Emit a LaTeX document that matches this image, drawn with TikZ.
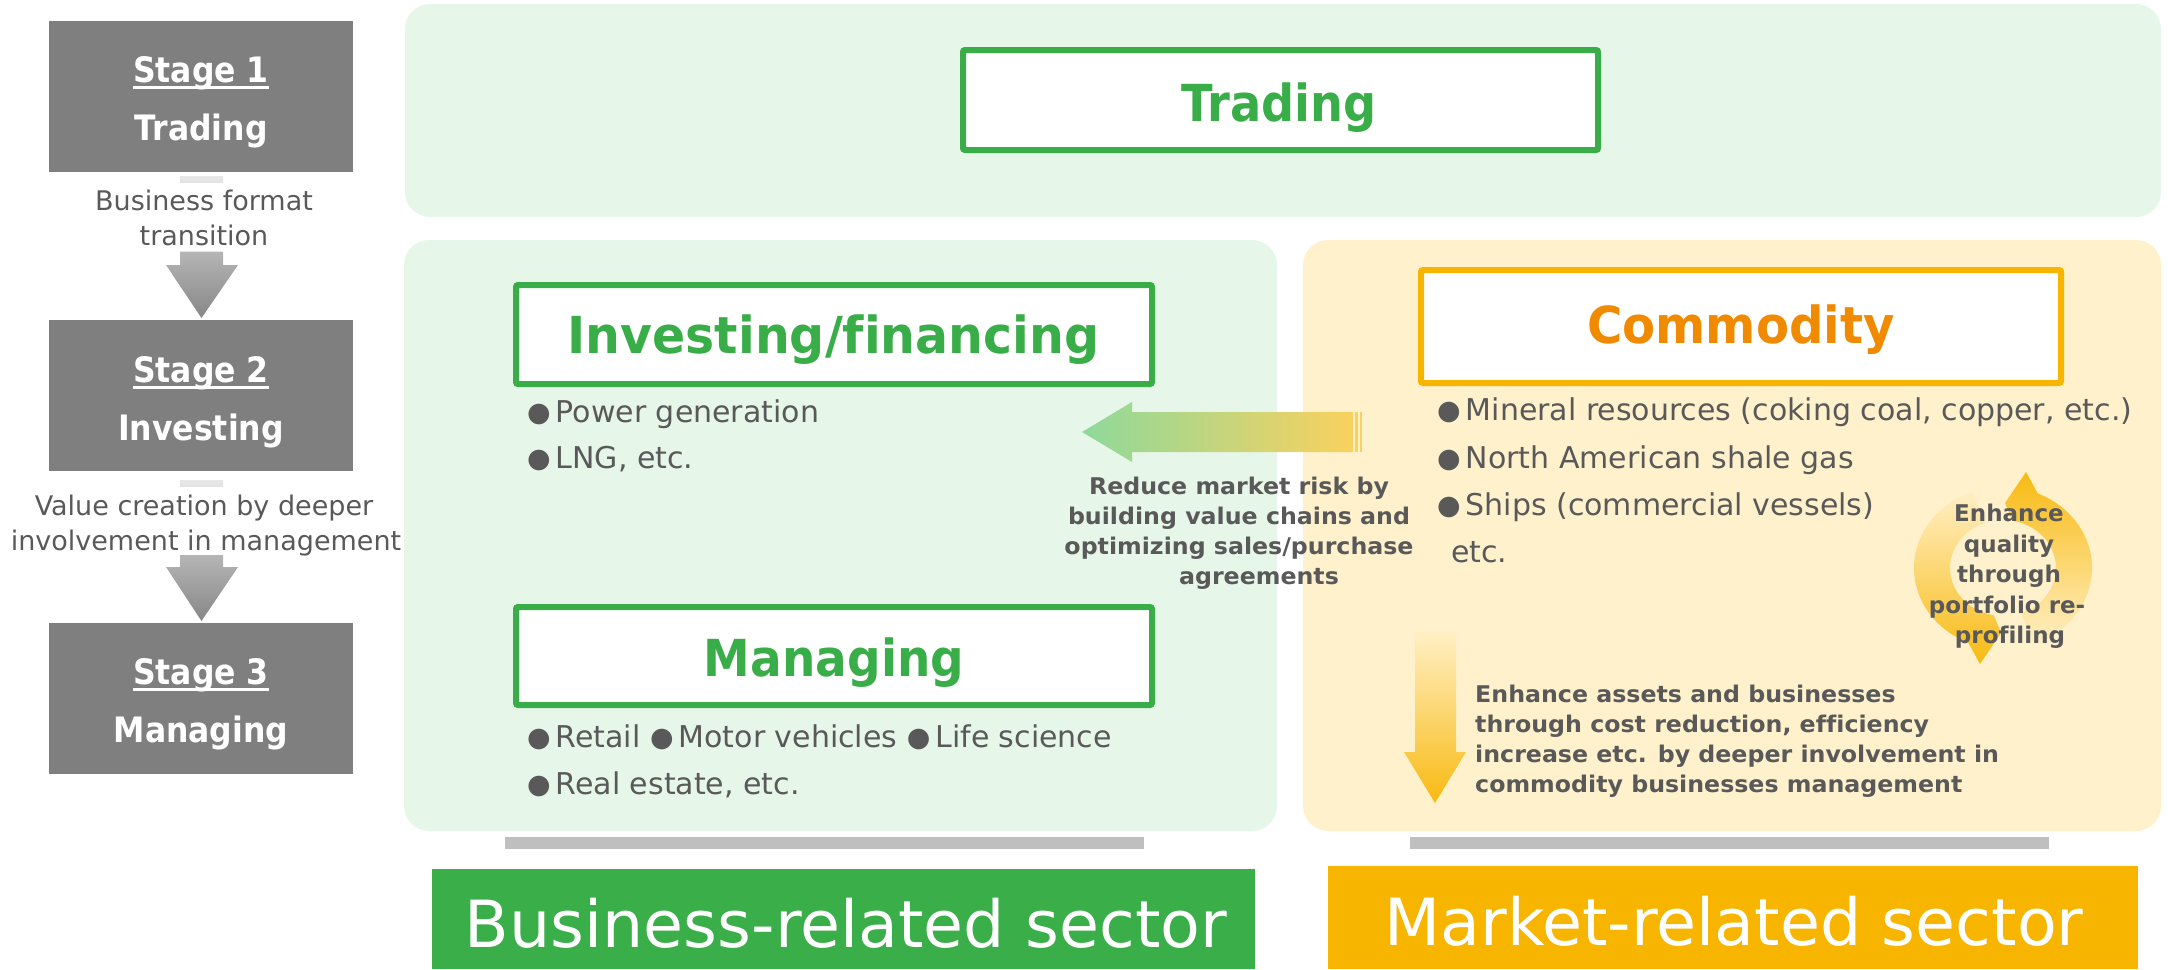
\documentclass[tikz,border=0pt]{standalone}
\usepackage{fontspec}
\usepackage{graphicx}
\setmainfont[Ligatures=NoCommon]{DejaVu Sans}
\usetikzlibrary{calc}
\definecolor{pgreen}{HTML}{E6F6E8}
\definecolor{pyellow}{HTML}{FFF1CC}
\definecolor{tgreen}{HTML}{39AD47}
\definecolor{borange}{HTML}{F8B500}
\definecolor{torange}{HTML}{F08A00}
\definecolor{sgreen}{HTML}{3AAE48}
\definecolor{syellow}{HTML}{F7B500}
\definecolor{txtgray}{HTML}{595959}
\definecolor{stgray}{HTML}{7F7F7F}
\definecolor{barg}{HTML}{BFBFBF}
\definecolor{agreen}{HTML}{8ED99B}
\definecolor{amid}{HTML}{F2F7E6}
\definecolor{ayel}{HTML}{FAD15E}
\definecolor{cdark}{HTML}{F8BA12}
\definecolor{clight}{HTML}{FFEFC4}
\newcommand\hsc[2]{\scalebox{#1}[1]{#2}}
\newcommand\myul[1]{\setbox0\hbox{#1}\rlap{\rule[-7pt]{\wd0}{3pt}}\box0}
\newcommand\bdot{\raisebox{1pt}{\scalebox{0.9}{●}}\kern5pt}
\tikzset{
  panel/.style={inner sep=0, rounded corners=25pt, draw=none},
  stagebox/.style={fill=stgray, inner sep=0, minimum width=304pt, minimum height=151pt},
  titlebox/.style={fill=white, line width=6pt, inner sep=0, rounded corners=2pt},
  stagetxt/.style={font=\bfseries\fontsize{35}{35}\selectfont, text=white, inner sep=0, anchor=base},
  transtxt/.style={font=\fontsize{27}{27}\selectfont, text=txtgray, inner sep=0, anchor=base},
  ttltxt/.style={font=\bfseries\fontsize{51}{51}\selectfont, inner sep=0, anchor=base},
  bul/.style={font=\fontsize{30}{30}\selectfont, text=txtgray, inner sep=0, anchor=base west},
  notetxt/.style={font=\bfseries\fontsize{23}{23}\selectfont, text=txtgray, inner sep=0, anchor=base},
  notel/.style={notetxt, anchor=base west},
  sectortxt/.style={font=\fontsize{65}{65}\selectfont, text=white, inner sep=0, anchor=base},
  sectorbox/.style={inner sep=0, draw=none},
  grayline/.style={fill=barg, inner sep=0, minimum height=12pt, minimum width=639pt},
}
\begin{document}
\begin{tikzpicture}[x=1pt,y=1pt]
\useasboundingbox (0,0) rectangle (2168,-969);
% panels
\node[panel, fill=pgreen, minimum width=1756pt, minimum height=213pt] (ptop) at (1283,-110.5) {};
\node[panel, fill=pgreen, minimum width=873pt, minimum height=591pt] (pleft) at (840.5,-535.5) {};
\node[panel, fill=pyellow, minimum width=858pt, minimum height=591pt] (pright) at (1732,-535.5) {};
% gray bars
\node[grayline] (gl) at (824.5,-843) {};
\node[grayline] (gr) at (1729,-843) {};
% sector boxes
\node[sectorbox, fill=sgreen, minimum width=823pt, minimum height=100pt] (secg) at (843.5,-919) {};
\node[sectortxt] (secgt) at (846,-947) {Business-related sector};
\node[sectorbox, fill=syellow, minimum width=810pt, minimum height=103pt] (secy) at (1733,-917.5) {};
\node[sectortxt] (secyt) at (1734,-945) {Market-related sector};
% stage boxes
\node[stagebox] (s1) at (201,-96.5) {};
\node[stagebox] (s2) at (201,-395.5) {};
\node[stagebox] (s3) at (201,-698.5) {};
\node[stagetxt] (s1a) at (201,-82) {\hsc{0.9}{\myul{Stage 1}}};
\node[stagetxt] (s1b) at (201,-140) {\hsc{0.9}{Trading}};
\node[stagetxt] (s2a) at (201,-382) {\hsc{0.9}{\myul{Stage 2}}};
\node[stagetxt] (s2b) at (201,-440) {\hsc{0.9}{Investing}};
\node[stagetxt] (s3a) at (201,-684) {\hsc{0.9}{\myul{Stage 3}}};
\node[stagetxt] (s3b) at (201,-742) {\hsc{0.9}{Managing}};
% stage arrows
\shade[top color=black!9, bottom color=black!11] (180,-176) rectangle (223,-182.5);
\shade[top color=black!29, bottom color=black!47] (180,-251.5) -- (223,-251.5) -- (223,-265) -- (238,-265) -- (201.5,-318) -- (166,-265) -- (180,-265) -- cycle;
\shade[top color=black!9, bottom color=black!11] (180,-480) rectangle (223,-486.5);
\shade[top color=black!29, bottom color=black!47] (180,-555) -- (223,-555) -- (223,-567) -- (238,-567) -- (201.5,-621) -- (166,-567) -- (180,-567) -- cycle;
\node[transtxt] (tr1a) at (204,-210) {Business format};
\node[transtxt] (tr1b) at (204,-245) {transition};
\node[transtxt] (tr2a) at (204,-515) {Value creation by deeper};
\node[transtxt] (tr2b) at (206,-550) {involvement in management};
% title boxes
\node[titlebox, draw=tgreen, minimum width=635pt, minimum height=100pt] (btrade) at (1280.5,-100) {};
\node[titlebox, draw=tgreen, minimum width=636pt, minimum height=99pt] (binvest) at (834,-334.5) {};
\node[titlebox, draw=tgreen, minimum width=636pt, minimum height=98pt] (bmanage) at (834,-656) {};
\node[titlebox, draw=borange, minimum width=640pt, minimum height=113pt] (bcommod) at (1741,-326.5) {};
\node[ttltxt, text=tgreen] (ttrade) at (1279,-121) {\hsc{0.907}{Trading}};
\node[ttltxt, text=tgreen] (tinvest) at (833.5,-353) {\hsc{0.96}{Investing/financing}};
\node[ttltxt, text=tgreen] (tmanage) at (834,-676) {\hsc{0.92}{Managing}};
\node[ttltxt, text=torange] (tcommod) at (1741,-343) {\hsc{0.945}{Commodity}};
% bullets
\node[bul] (b1) at (527,-422) {\bdot Power generation};
\node[bul] (b2) at (527,-468) {\bdot LNG, etc.};
\node[bul] (b3) at (527,-747) {\bdot Retail \bdot Motor vehicles \bdot Life science};
\node[bul] (b4) at (527,-794) {\bdot Real estate, etc.};
\node[bul] (c1) at (1437,-420) {\bdot Mineral resources (coking coal, copper, etc.)};
\node[bul] (c2) at (1437,-468) {\bdot North American shale gas};
\node[bul] (c3) at (1437,-515) {\bdot Ships (commercial vessels)};
\node[bul] (c4) at (1451,-562) {etc.};
% horizontal gradient arrow
\shade[left color=agreen, middle color=amid, right color=ayel]
  (1082,-432) -- (1132,-402) -- (1132,-412) -- (1353,-412) -- (1353,-452) -- (1132,-452) -- (1132,-462) -- cycle;
\fill[ayel] (1355,-412) rectangle (1357.5,-452);
\fill[ayel] (1359.5,-412) rectangle (1362,-452);
\node[notetxt] (r1) at (1239,-494) {\hsc{1.03}{Reduce market risk by}};
\node[notetxt] (r2) at (1239,-524) {\hsc{1.03}{building value chains and}};
\node[notetxt] (r3) at (1239,-554) {\hsc{1.03}{optimizing sales/purchase}};
\node[notetxt] (r4) at (1259,-584) {\hsc{1.03}{agreements}};
% vertical gradient arrow
\shade[top color=clight, bottom color=cdark]
  (1415,-632) -- (1456,-632) -- (1456,-752) -- (1466,-752) -- (1435,-803) -- (1404,-752) -- (1415,-752) -- cycle;
\node[notel] (e1) at (1475,-702) {\hsc{1.03}{Enhance assets and businesses}};
\node[notel] (e2) at (1475,-732) {\hsc{1.03}{through cost reduction, efficiency}};
\node[notel] (e3) at (1475,-762) {\hsc{1.03}{increase etc. by deeper involvement in}};
\node[notel] (e4) at (1475,-792) {\hsc{1.03}{commodity businesses management}};
% circular arrows
\coordinate (C) at (2003,-568);
\shade[top color=cdark, bottom color=clight]
  ($(C)+(-70:89pt and 81pt)$) arc[start angle=-70, end angle=67, x radius=89pt, y radius=81pt]
  -- (2026,-472) -- (2005,-503) -- ($(C)+(80:53pt and 48pt)$)
  arc[start angle=80, end angle=-70, x radius=53pt, y radius=48pt] -- cycle;
\shade[top color=clight, bottom color=cdark]
  ($(C)+(110:89pt and 81pt)$) arc[start angle=110, end angle=247, x radius=89pt, y radius=81pt]
  -- (1980,-664) -- (2001,-633) -- ($(C)+(260:53pt and 48pt)$)
  arc[start angle=260, end angle=110, x radius=53pt, y radius=48pt] -- cycle;
\node[notetxt] (q1) at (2009,-521) {Enhance};
\node[notetxt] (q2) at (2009,-552) {quality};
\node[notetxt] (q3) at (2009,-582) {through};
\node[notetxt] (q4) at (2007,-613) {portfolio re-};
\node[notetxt] (q5) at (2010,-643) {profiling};
\end{tikzpicture}
\end{document}
